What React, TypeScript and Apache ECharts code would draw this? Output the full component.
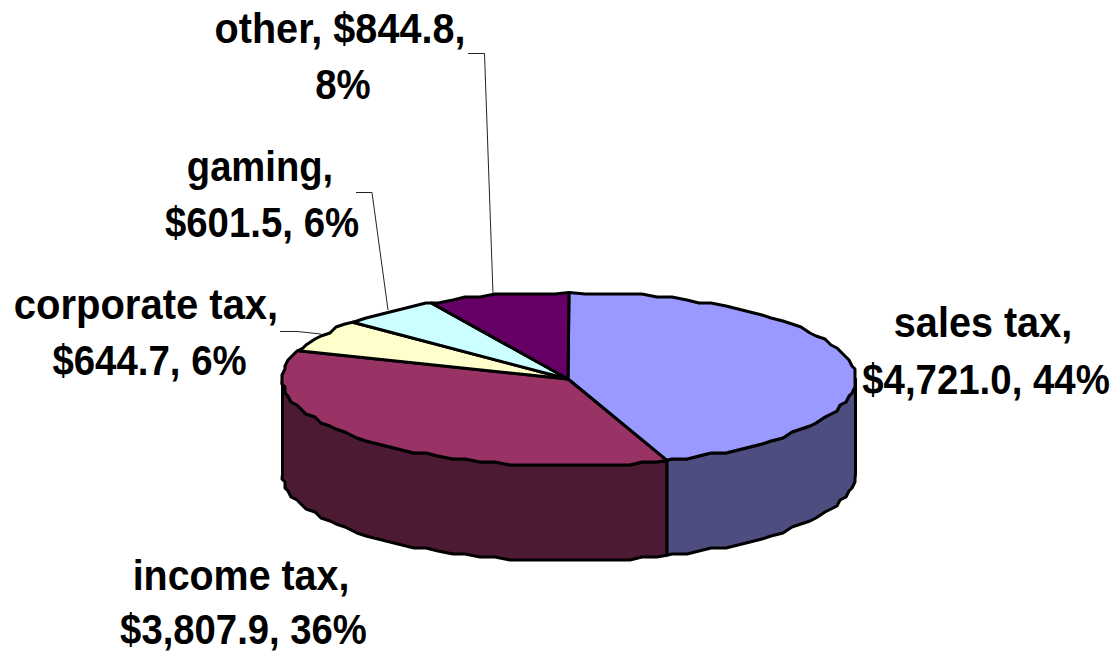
import React, { useEffect, useRef } from "react";
import * as echarts from "echarts";

const categories = ["sales tax", "income tax", "corporate tax", "gaming", "other"];
const values = [4721.0, 3807.9, 644.7, 601.5, 844.8];
const valueLabels = ["$4,721.0", "$3,807.9", "$644.7", "$601.5", "$844.8"];
const percents = ["44%", "36%", "6%", "6%", "8%"];
const topColors = ["#9999FF", "#993366", "#FFFFCC", "#CCFFFF", "#660066"];
const sideColors = ["#4D4D80", "#4D1A33", "#808066", "#668080", "#330033"];

const CX = 569, CY = 379, RX = 286.5, RY = 86.5, DEPTH = 95;
const total = values.reduce((a, b) => a + b, 0);

function angles(i: number): [number, number] {
  let s = 0;
  for (let k = 0; k < i; k++) s += values[k];
  return [(s / total) * 360, ((s + values[i]) / total) * 360];
}
function pt(deg: number, dy = 0, snap = true): number[] {
  const r = (deg * Math.PI) / 180;
  const x = CX + RX * Math.sin(r);
  const y = CY - RY * Math.cos(r);
  if (!snap) return [x, y + dy];
  return [Math.round(x / 3) * 3, Math.round(y / 3) * 3 + dy];
}
function arc(a: number, b: number, dy = 0): number[][] {
  const pts: number[][] = [pt(a, dy, false)];
  const step = 3;
  for (let t = Math.ceil(a / step + 0.01) * step; t < b - 0.01; t += step) pts.push(pt(t, dy));
  pts.push(pt(b, dy, false));
  return pts;
}

const stroke = { stroke: "#000", lineWidth: 3, lineJoin: "round" as const };

function renderTop(params: any, api: any) {
  const i = params.dataIndex;
  api.value(0);
  const [a, b] = angles(i);
  return {
    type: "polygon",
    shape: { points: [[CX - 1, CY], ...arc(a, b)] },
    style: { fill: topColors[i], ...stroke },
  };
}
function renderSide(params: any, api: any) {
  const i = params.dataIndex;
  api.value(0);
  const [a0, b0] = angles(i);
  const a = Math.max(a0, 90), b = Math.min(b0, 270);
  if (b <= a) return null;
  return {
    type: "polygon",
    shape: { points: [...arc(a, b), ...arc(a, b, DEPTH).reverse()] },
    style: { fill: sideColors[i], ...stroke },
  };
}

const labelLines: string[][] = [
  [`${categories[0]},`, `${valueLabels[0]}, ${percents[0]}`],
  [`${categories[1]},`, `${valueLabels[1]}, ${percents[1]}`],
  [`${categories[2]},`, `${valueLabels[2]}, ${percents[2]}`],
  [`${categories[3]},`, `${valueLabels[3]}, ${percents[3]}`],
  [`${categories[4]}, ${valueLabels[4]},`, `${percents[4]}`],
];
const lineWidths = [[0.99, 0.96], [0.985, 0.957], [1, 0.96], [0.955, 0.96], [0.99, 0.96]];
const lineX = [[983, 986], [241, 243.5], [146, 149.5], [260, 262], [340, 343]];
const lineY = [[323, 379], [575, 629.5], [305, 360], [166, 222], [28.5, 84]];
const leaders = [
  [[468, 53.5], [484.5, 53.5], [493, 294]],
  [[356, 192.5], [372, 192.5], [388, 310]],
  [[280, 331.5], [297, 331.5], [321, 334]],
];

export default function App() {
  const ref = useRef<HTMLDivElement>(null);
  useEffect(() => {
    const chart = echarts.init(ref.current!, undefined, { renderer: "svg" });
    chart.setOption({
      animation: false,
      backgroundColor: "#fff",
      series: [
        { type: "custom", coordinateSystem: "none", z: 1, silent: true, data: values, renderItem: renderSide },
        { type: "custom", coordinateSystem: "none", z: 2, silent: true, data: values, renderItem: renderTop },
      ],
      graphic: [
        ...leaders.map((points) => ({
          type: "polyline",
          z: 3,
          shape: { points },
          style: { stroke: "#222", lineWidth: 1, fill: "none" },
        })),
        ...labelLines.flatMap((lines, i) =>
          lines.map((text, j) => ({
            type: "text",
            z: 4,
            x: lineX[i][j],
            y: lineY[i][j],
            scaleX: lineWidths[i][j],
            scaleY: 1.06,
            style: {
              text,
              fill: "#000",
              font: 'bold 40px "Liberation Sans", Arial, sans-serif',
              align: "center",
              verticalAlign: "middle",
            },
          }))
        ),
      ],
    });
    return () => chart.dispose();
  }, []);
  return (
    <div
      ref={ref}
      style={{ position: "fixed", left: 0, top: 0, width: 1114, height: 653 }}
    />
  );
}
